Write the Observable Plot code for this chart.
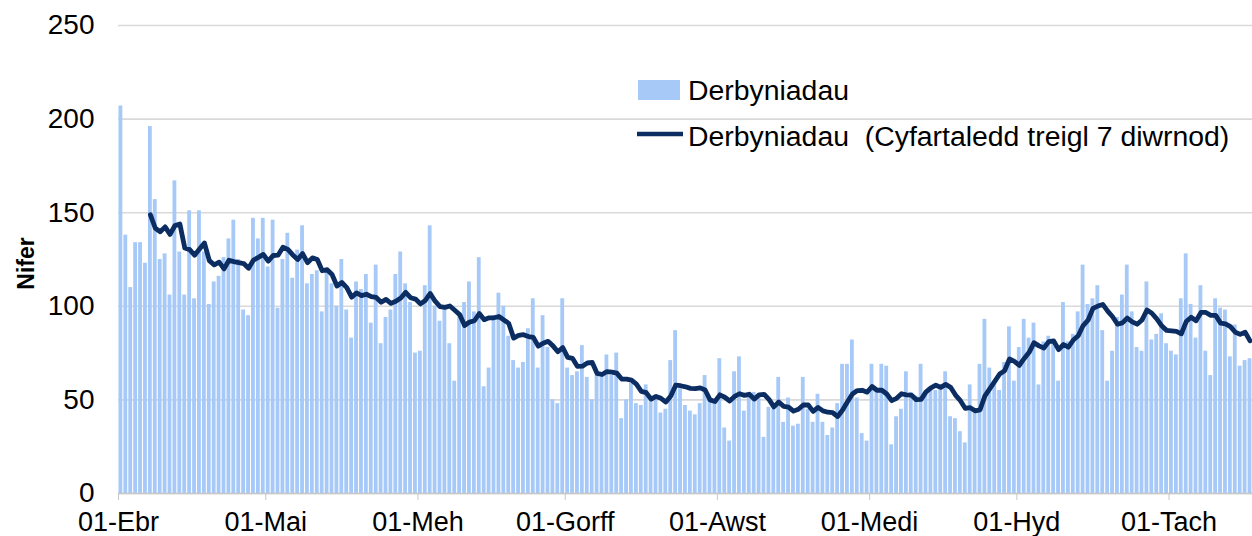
<!DOCTYPE html>
<html><head><meta charset="utf-8">
<script src="https://cdn.jsdelivr.net/npm/d3@7"></script>
<script src="https://cdn.jsdelivr.net/npm/@observablehq/plot@0.6"></script>
<style>
html,body{margin:0;padding:0;background:#fff;}
#chart{position:relative;width:1252px;height:536px;overflow:hidden;}
</style>
</head><body><div id="chart"></div>
<script>
// ---- data ----
const startDate = "2021-04-01";
const admissions = [
207,138,110,134,134,123,196,157,125,128,
106,167,129,106,151,104,151,129,101,113,
116,126,136,146,125,98,95,147,136,147,
121,146,99,125,139,115,130,143,112,117,
119,97,119,112,100,125,98,83,113,109,
117,91,122,80,94,98,117,129,112,102,
75,76,111,143,100,92,99,80,60,95,
102,113,97,126,57,67,95,107,100,84,
71,67,70,88,104,67,95,78,50,48,
104,67,63,65,79,62,50,63,63,74,
63,75,40,50,59,48,47,58,51,50,
43,45,71,87,56,47,44,42,48,63,
50,50,72,35,28,65,73,44,54,54,
51,30,46,45,62,38,51,36,37,62,
45,38,53,38,31,35,48,69,69,82,
51,32,28,69,55,69,68,26,41,45,
65,54,52,69,54,56,55,57,65,41,
40,33,27,58,45,69,93,67,60,55,
70,89,60,78,93,83,91,58,81,84,
81,60,102,81,85,97,122,101,104,111,
87,60,76,94,106,122,97,78,76,113,
82,85,96,80,76,74,104,128,101,83,
111,76,63,104,99,98,73,90,68,71,
72
];
const tickLabels = ["01-Ebr","01-Mai","01-Meh","01-Gorff","01-Awst","01-Medi","01-Hyd","01-Tach"];
const yTicks = [0,50,100,150,200,250];
const barSeriesName = "Derbyniadau";
const lineSeriesName = "Derbyniadau\u00a0 (Cyfartaledd treigl 7 diwrnod)";
const yLabel = "Nifer";

// ---- styles ----
const FONT = "'Liberation Sans', Arial, Helvetica, sans-serif";
const barColor = "#a6c9f8";
const lineColor = "#0c2d62";

const DAY = 864e5;
const t0 = new Date(startDate + "T00:00:00Z");
const data = admissions.map((v, i) => ({date: new Date(+t0 + i * DAY), value: v}));
const tEnd = new Date(+t0 + admissions.length * DAY);
const monthStarts = tickLabels.map((_, i) => new Date(Date.UTC(t0.getUTCFullYear(), t0.getUTCMonth() + i, 1)));

const plot = Plot.plot({
  width: 1252, height: 536,
  marginLeft: 118, marginRight: 0, marginTop: 25, marginBottom: 43,
  style: {fontFamily: FONT, fontSize: "26px", color: "#000", background: "#fff", overflow: "visible"},
  x: {type: "utc", domain: [t0, tEnd]},
  y: {domain: [0, 250]},
  marks: [
    Plot.gridY(yTicks, {stroke: "#d9d9d9", strokeOpacity: 1, strokeWidth: 1.6}),
    Plot.rect(data, {
      x1: "date", x2: d => new Date(+d.date + DAY), y1: 0, y2: "value",
      fill: barColor, insetLeft: 0.5, insetRight: 0.6
    }),
    Plot.lineY(data, Plot.windowY({k: 7, anchor: "end", strict: true}, {
      x: d => new Date(+d.date + DAY / 2), y: "value",
      stroke: lineColor, strokeWidth: 4.8, strokeLinejoin: "round", strokeLinecap: "round"
    })),
    Plot.ruleY([0], {stroke: "#c8c8c8", strokeWidth: 1.5}),
    Plot.axisX({
      ticks: monthStarts,
      tickFormat: d => tickLabels[monthStarts.findIndex(m => +m === +d)],
      tickSize: 7, tickPadding: 11, stroke: "#c8c8c8", fill: "#000", fontSize: 27, label: null
    }),
    Plot.axisY({ticks: yTicks, tickSize: 0, tickPadding: 24, fill: "#000", fontSize: 28, label: null}),
    Plot.text([yLabel], {frameAnchor: "left", textAnchor: "middle", dx: -92, dy: 4, rotate: -90, fontWeight: "bold", fontSize: 23, fill: "#000"})
  ]
});

// ---- legend (inside plot area, top right) ----
const svg = d3.select(plot);
const lg = svg.append("g").attr("font-family", FONT).attr("font-size", 28.4).attr("fill", "#000").attr("text-anchor", "start");
lg.append("rect").attr("x", 638).attr("y", 80).attr("width", 42).attr("height", 20).attr("fill", barColor);
lg.append("text").attr("x", 688).attr("y", 100).attr("text-anchor", "start").text(barSeriesName);
lg.append("line").attr("x1", 637).attr("x2", 683).attr("y1", 134).attr("y2", 134)
  .attr("stroke", lineColor).attr("stroke-width", 4.5);
lg.append("text").attr("x", 688).attr("y", 146).attr("text-anchor", "start").text(lineSeriesName);

document.getElementById("chart").appendChild(plot);
</script>
</body></html>
